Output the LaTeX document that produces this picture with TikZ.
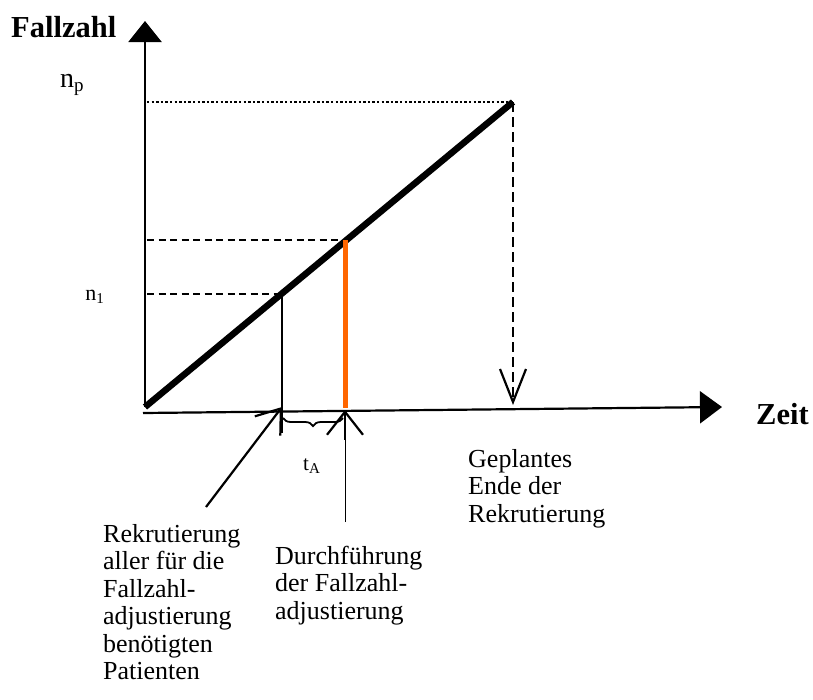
\documentclass[tikz,border=0pt]{standalone}
\usepackage{fontspec}
\setmainfont{Liberation Serif}
\usetikzlibrary{arrows.meta,decorations.pathreplacing}
\definecolor{orng}{HTML}{FF6600}
\begin{document}
\begin{tikzpicture}[x=1pt,y=-1pt,
  axisline/.style={line width=2.2pt},
  growline/.style={line width=6.5pt},
  dotline/.style={line width=2.6pt,dash pattern=on 2.4pt off 2.2pt},
  dashline/.style={line width=2.4pt,dash pattern=on 7pt off 4.5pt},
  vdashline/.style={line width=2.8pt,dash pattern=on 10pt off 5pt},
  bodytext/.style={inner sep=0pt,font=\fontsize{26}{27.5}\selectfont},
  boldtext/.style={inner sep=0pt,font=\fontsize{30.5}{32}\selectfont\bfseries},
]
\useasboundingbox (0,0) rectangle (813,699);
% coordinates
\coordinate (O) at (145,407);
\coordinate (Ytip) at (145,21);
\coordinate (Xstart) at (143,413);
\coordinate (Xtip) at (722,407);
\coordinate (End) at (513,102);
\coordinate (EndAx) at (513,405);
\coordinate (NpL) at (147,102);
\coordinate (N1L) at (147,294);
\coordinate (N1) at (282,294);
\coordinate (N1low) at (282,433);
\coordinate (N2L) at (147,240);
\coordinate (N2) at (345,240);
\coordinate (N2Ax) at (345,408);
\coordinate (RekTip) at (282,407);
\coordinate (RekFoot) at (206,507);
\coordinate (DurTip) at (345,410);
\coordinate (DurMid) at (345,440);
\coordinate (DurFoot) at (345,522);
\coordinate (BrL) at (283,418);
\coordinate (BrR) at (343,418);
% texts
\node[boldtext,anchor=base west] (ylab) at (11,37) {Fallzahl};
\node[boldtext,anchor=base west] (xlab) at (756,424) {Zeit};
\node[inner sep=0pt,anchor=base west,font=\fontsize{28}{30}\selectfont] (np) at (60,87)
  {n\raisebox{-4pt}{\fontsize{19}{19}\selectfont p}};
\node[inner sep=0pt,anchor=base east,font=\fontsize{22}{24}\selectfont] (n1) at (104,300)
  {n\raisebox{-3pt}{\fontsize{15}{15}\selectfont 1}};
\node[inner sep=0pt,anchor=base west,font=\fontsize{21}{23}\selectfont] (tA) at (303,470)
  {t\raisebox{-3pt}{\fontsize{15}{15}\selectfont A}};
\node[bodytext,anchor=base west] (rek) at (103,542)
  {\begin{tabular}[t]{@{}l@{}}Rekrutierung\\aller für die\\Fallzahl-\\adjustierung\\benötigten\\Patienten\end{tabular}};
\node[bodytext,anchor=base west] (dur) at (275,564)
  {\begin{tabular}[t]{@{}l@{}}Durchführung\\der Fallzahl-\\adjustierung\end{tabular}};
\node[bodytext,anchor=base west] (gep) at (468,467)
  {\begin{tabular}[t]{@{}l@{}}Geplantes\\Ende der\\Rekrutierung\end{tabular}};
% axes
\draw[axisline,-{Triangle[length=21pt,width=33pt]}] (O) -- (Ytip);
\draw[axisline,-{Triangle[length=22pt,width=32pt]}] (Xstart) -- (Xtip);
% guide lines
\draw[dotline] (NpL) -- (End);
\draw[dashline] (N1L) -- (N1);
\draw[dashline] (N2L) -- (N2);
\draw[vdashline,-{Straight Barb[length=33pt,width=26pt,line width=2.2pt]}] (End) -- (EndAx);
% recruitment line
\draw[growline] (O) -- (End);
\draw[axisline] (N1) -- (N1low);
\draw[orng,line width=5pt] (N2) -- (N2Ax);
% brace
\draw[line width=1.8pt,decorate,decoration={brace,mirror,amplitude=8pt}] (BrL) -- (BrR);
% pointers
\draw[line width=2.2pt,-{Straight Barb[length=22pt,width=32pt,line width=2.2pt]}] (RekFoot) -- (RekTip);
\draw[line width=0.9pt,-{Straight Barb[length=23pt,width=36pt,line width=2.2pt]}] (DurFoot) -- (DurTip);
\draw[line width=2.2pt] (DurTip) -- (DurMid);
\end{tikzpicture}
\end{document}
